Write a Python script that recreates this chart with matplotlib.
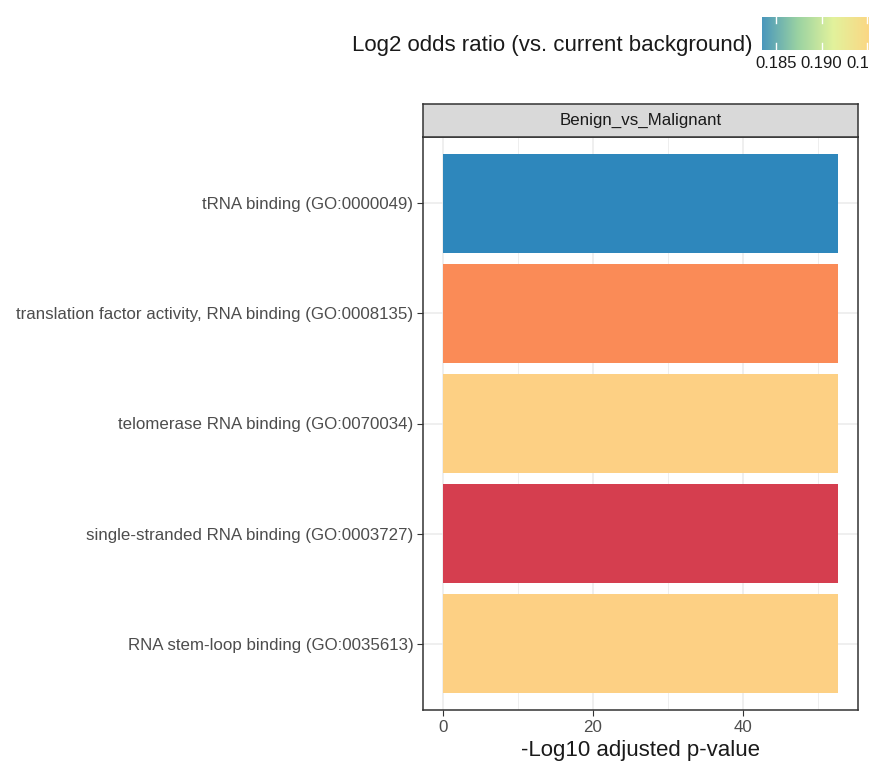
import matplotlib
matplotlib.use("Agg")
import matplotlib.pyplot as plt
from matplotlib.colors import LinearSegmentedColormap
from matplotlib.transforms import Bbox
import numpy as np

plt.rcParams['font.family'] = ['Liberation Sans', 'DejaVu Sans']

# Enriched GO terms, bottom to top
terms = [
    "RNA stem-loop binding (GO:0035613)",
    "single-stranded RNA binding (GO:0003727)",
    "telomerase RNA binding (GO:0070034)",
    "translation factor activity, RNA binding (GO:0008135)",
    "tRNA binding (GO:0000049)",
]
neg_log10_padj = [52.76, 52.76, 52.76, 52.76, 52.76]
bar_colors = ["#FDD084", "#D53E4F", "#FDD084", "#FA8B57", "#2E87BC"]

facet_label = "Benign_vs_Malignant"
x_label = "-Log10 adjusted p-value"
legend_title = "Log2 odds ratio (vs. current background)"
odds_min, odds_max = 0.18347, 0.1952
odds_ticks = [0.185, 0.190, 0.195]

W, H = 874, 764
fig = plt.figure(figsize=(W / 100, H / 100), dpi=100)

def fx(px):
    return px / W

def fy(py):
    return 1 - py / H

small = 12.2
big = 16

# main panel
ax = fig.add_axes([fx(423), fy(710), fx(858) - fx(423), fy(137) - fy(710)])
y = np.arange(1, len(terms) + 1)
ax.barh(y, neg_log10_padj, height=0.9, color=bar_colors, zorder=3)
xmax = max(neg_log10_padj)
ax.set_xlim(-0.05 * xmax, 1.05 * xmax)
ax.set_ylim(0.4, len(terms) + 0.6)
ax.set_yticks(y)
ax.set_yticklabels(terms, fontsize=small, color="#4D4D4D")
ax.set_xticks([0, 20, 40])
ax.set_xticks([10, 30, 50], minor=True)
ax.tick_params(axis="x", which="major", labelsize=small, labelcolor="#4D4D4D",
               color="#333333", length=4, width=0.8, pad=3)
ax.tick_params(axis="x", which="minor", length=0)
ax.tick_params(axis="y", color="#333333", length=4, width=0.8, pad=3)
ax.grid(True, which="major", color="#EBEBEB", linewidth=1.1, zorder=0)
ax.grid(True, which="minor", axis="x", color="#EBEBEB", linewidth=0.6, zorder=0)
ax.set_axisbelow(True)
for s in ax.spines.values():
    s.set_color("#333333")
    s.set_linewidth(1.1)
ax.set_xlabel(x_label, fontsize=big, color="#1A1A1A", labelpad=4)

# facet strip
sax = fig.add_axes([fx(423), fy(137), fx(858) - fx(423), fy(104) - fy(137)])
sax.set_facecolor("#D9D9D9")
sax.set_xticks([])
sax.set_yticks([])
for s in sax.spines.values():
    s.set_color("#333333")
    s.set_linewidth(1.1)
sax.text(0.5, 0.5, facet_label, ha="center", va="center", fontsize=small,
         color="#1A1A1A", transform=sax.transAxes)

# colour bar legend
cb_left, cb_right, cb_top, cb_bottom = 762, 869, 16.5, 50
cmap = LinearSegmentedColormap.from_list(
    "odds", ["#4A97BC", "#9AD2A2", "#E2F29C", "#FBD784"])
cax = fig.add_axes([fx(cb_left), fy(cb_bottom), fx(cb_right) - fx(cb_left),
                    fy(cb_top) - fy(cb_bottom)])
grad = np.linspace(odds_min, odds_max, 256).reshape(1, -1)
cax.imshow(grad, aspect="auto", cmap=cmap, extent=[odds_min, odds_max, 0, 1],
           vmin=odds_min, vmax=odds_max)
cax.set_xlim(odds_min, odds_max)
cax.set_ylim(0, 1)
for t in odds_ticks:
    cax.plot([t, t], [0, 0.2], color="white", lw=1)
    cax.plot([t, t], [0.8, 1], color="white", lw=1)
cax.set_yticks([])
cax.set_xticks([])
for s in cax.spines.values():
    s.set_visible(False)

# tick labels; the legend box clips the last one at its right edge
legend_clip = Bbox([[0, 0], [867.5, H]])
for t in odds_ticks:
    xpix = cb_left + (t - odds_min) / (odds_max - odds_min) * (cb_right - cb_left)
    txt = fig.text(fx(xpix), fy(63.5), f"{t:.3f}", ha="center", va="center",
                   fontsize=12, color="#1A1A1A")
    txt.set_clip_box(legend_clip)
    txt.set_clip_on(True)
fig.text(fx(752), fy(45), legend_title, ha="right", va="center",
         fontsize=big, color="#1A1A1A")

fig.savefig("out.png", dpi=100, facecolor="white")
